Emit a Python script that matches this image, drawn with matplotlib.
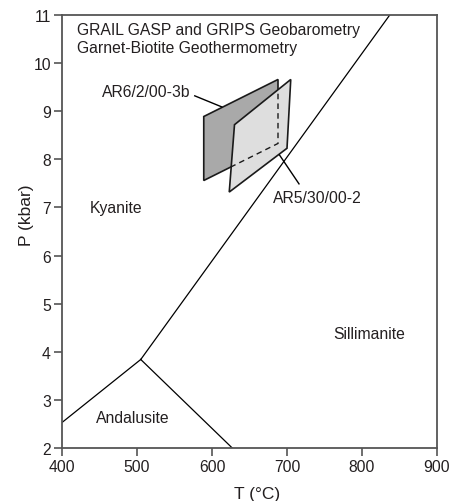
import matplotlib
matplotlib.use("Agg")
import matplotlib.pyplot as plt
from matplotlib.patches import Polygon

plt.rcParams['font.family'] = ['Liberation Sans', 'DejaVu Sans']

# Phase boundaries (T in degC, P in kbar)
ky_and_T = [400, 505]
ky_and_P = [2.53, 3.84]
and_sil_T = [505, 627]
and_sil_P = [3.84, 2.0]
ky_sil_T = [505, 837]
ky_sil_P = [3.84, 11.0]

# P-T boxes
ar6_T = [589, 688, 688, 589]
ar6_P = [8.89, 9.66, 8.33, 7.56]
ar5_T = [623, 630, 705, 700]
ar5_P = [7.32, 8.72, 9.66, 8.23]

x_ticks = [400, 500, 600, 700, 800, 900]
y_ticks = [2, 3, 4, 5, 6, 7, 8, 9, 10, 11]

fig = plt.figure(figsize=(4.51, 5.02), dpi=100)
ax = fig.add_axes([62/451, 53/502, 375/451, 433/502])
ax.set_xlim(400, 900)
ax.set_ylim(2, 11)

lc = 'black'
lw = 0.9
ax.plot(ky_and_T, ky_and_P, color=lc, lw=lw)
ax.plot(and_sil_T, and_sil_P, color=lc, lw=lw)
ax.plot(ky_sil_T, ky_sil_P, color=lc, lw=lw, zorder=1)

dark = Polygon(list(zip(ar6_T, ar6_P)), closed=True, facecolor='#a9a9a9',
               edgecolor='#1a1a1a', lw=1.2, zorder=3)
ax.add_patch(dark)
light = Polygon(list(zip(ar5_T, ar5_P)), closed=True, facecolor='#dedede',
                edgecolor='#1a1a1a', lw=1.2, zorder=4)
ax.add_patch(light)
# hidden edges of the dark box, dashed where covered by the light box
hid = Polygon(list(zip(ar6_T, ar6_P)), closed=True, fill=False,
              edgecolor='#1a1a1a', lw=1.0, ls=(0, (4, 3)), zorder=5)
ax.add_patch(hid)
hid.set_clip_path(light)

tc = '#231f20'
fs = 11.3
ax.text(420, 10.61, 'GRAIL GASP and GRIPS Geobarometry', fontsize=fs,
        va='baseline', ha='left', color=tc)
ax.text(420, 10.23, 'Garnet-Biotite Geothermometry', fontsize=fs,
        va='baseline', ha='left', color=tc)

ax.text(571, 9.42, 'AR6/2/00-3b', fontsize=fs, ha='right', va='center', color=tc)
ax.plot([577, 613], [9.32, 9.09], color=lc, lw=1.0, zorder=6)
ax.text(681, 7.2, 'AR5/30/00-2', fontsize=fs, ha='left', va='center', color=tc)
ax.plot([690, 716], [8.09, 7.49], color=lc, lw=1.0, zorder=6)

ax.text(437, 6.99, 'Kyanite', fontsize=fs, ha='left', va='center', color=tc)
ax.text(761, 4.39, 'Sillimanite', fontsize=fs, ha='left', va='center', color=tc)
ax.text(445, 2.64, 'Andalusite', fontsize=fs, ha='left', va='center', color=tc)

sc = '#555555'
for s in ax.spines.values():
    s.set_color(sc)
    s.set_linewidth(1.3)
ax.set_xticks(x_ticks)
ax.set_yticks(y_ticks)
ax.tick_params(direction='out', length=6, width=1.2, color=sc,
               labelsize=fs, labelcolor=tc, pad=2)
ax.set_xlabel('T (°C)', fontsize=12.5, color=tc)
ax.set_ylabel('P (kbar)', fontsize=12.5, color=tc)
ax.xaxis.set_label_coords(0.52, -0.087)
ax.yaxis.set_label_coords(-0.075, 0.54)

fig.savefig('out.png', dpi=100)
